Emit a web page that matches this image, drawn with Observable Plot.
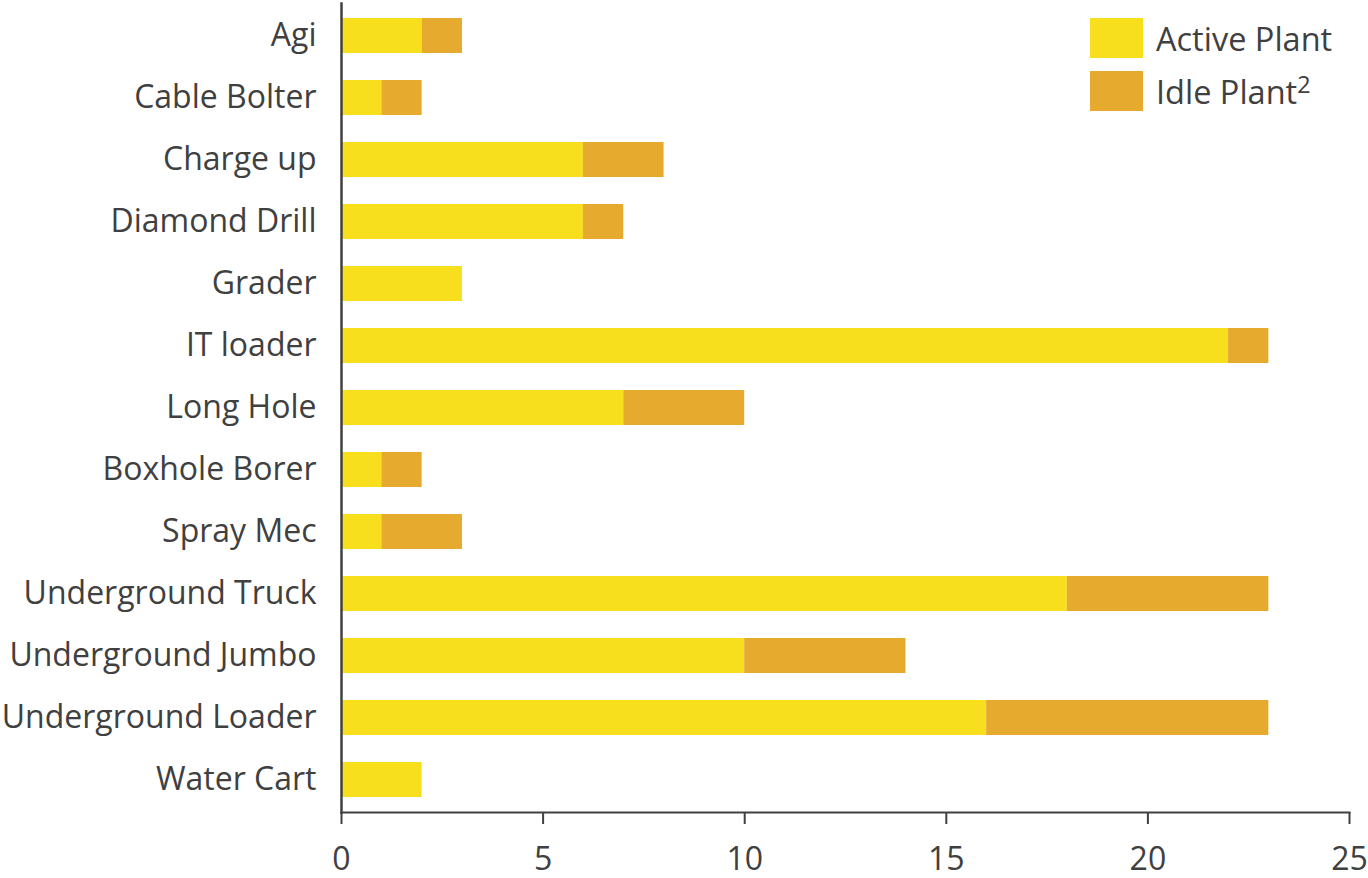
<!DOCTYPE html>
<html>
<head>
<meta charset="utf-8">
<script src="https://cdn.jsdelivr.net/npm/d3@7"></script>
<script src="https://cdn.jsdelivr.net/npm/@observablehq/plot@0.6"></script>
<style>
  html, body { margin: 0; padding: 0; background: #fff; }
  #wrap { position: relative; width: 1368px; height: 878px; font-family: "Open Sans", sans-serif; color: #404040; }
  #legend { position: absolute; left: 1090px; top: 18px; }
  .item { display: flex; align-items: center; height: 40px; margin-bottom: 13px; font-size: 32.5px; }
  .sw { width: 53px; height: 40px; margin-right: 13px; }
  sup { font-size: 0.72em; line-height: 0; vertical-align: 0.45em; }
</style>
</head>
<body>
<div id="wrap"></div>
<script>
const categories = ["Agi","Cable Bolter","Charge up","Diamond Drill","Grader","IT loader","Long Hole","Boxhole Borer","Spray Mec","Underground Truck","Underground Jumbo","Underground Loader","Water Cart"];
const activePlant = [2,1,6,6,3,22,7,1,1,18,10,16,2];
const idlePlant   = [1,1,2,1,0,1,3,1,2,5,4,7,0];
const seriesNames = ["Active Plant","Idle Plant"];
const seriesColors = ["#F7DF1E","#E5AA2E"];
const xTicks = [0,5,10,15,20,25];

const rows = [];
categories.forEach((c,i) => {
  rows.push({category: c, series: seriesNames[0], value: activePlant[i]});
  rows.push({category: c, series: seriesNames[1], value: idlePlant[i]});
});

const ink = "#404040";
const chart = Plot.plot({
  width: 1368,
  height: 878,
  marginLeft: 341,
  marginRight: 19,
  marginTop: 3,
  marginBottom: 66,
  style: {fontFamily: "'Open Sans', sans-serif", fontSize: "32px", color: ink, background: "white", overflow: "visible"},
  x: {domain: [0,25], ticks: xTicks, label: null},
  y: {domain: categories, paddingInner: 0.44, paddingOuter: 0.22, label: null},
  color: {domain: seriesNames, range: seriesColors},
  marks: [
    Plot.barX(rows, Plot.stackX({y: "category", x: "value", fill: "series", order: seriesNames})),
    Plot.axisX({ticks: xTicks, tickSize: 12, tickPadding: 23, strokeWidth: 2, label: null, fontSize: 32}),
    Plot.axisY({tickSize: 0, tickPadding: 25, label: null, fontSize: 32}),
    Plot.frame({anchor: "bottom", stroke: ink, strokeWidth: 2}),
    Plot.frame({anchor: "left", stroke: ink, strokeWidth: 2.5})
  ]
});

const wrap = document.getElementById("wrap");
wrap.appendChild(chart);

const legend = document.createElement("div");
legend.id = "legend";
legend.innerHTML = `
  <div class="item"><div class="sw" style="background:${seriesColors[0]}"></div><span>${seriesNames[0]}</span></div>
  <div class="item"><div class="sw" style="background:${seriesColors[1]}"></div><span>${seriesNames[1]}<sup>2</sup></span></div>`;
wrap.appendChild(legend);
</script>
</body>
</html>
